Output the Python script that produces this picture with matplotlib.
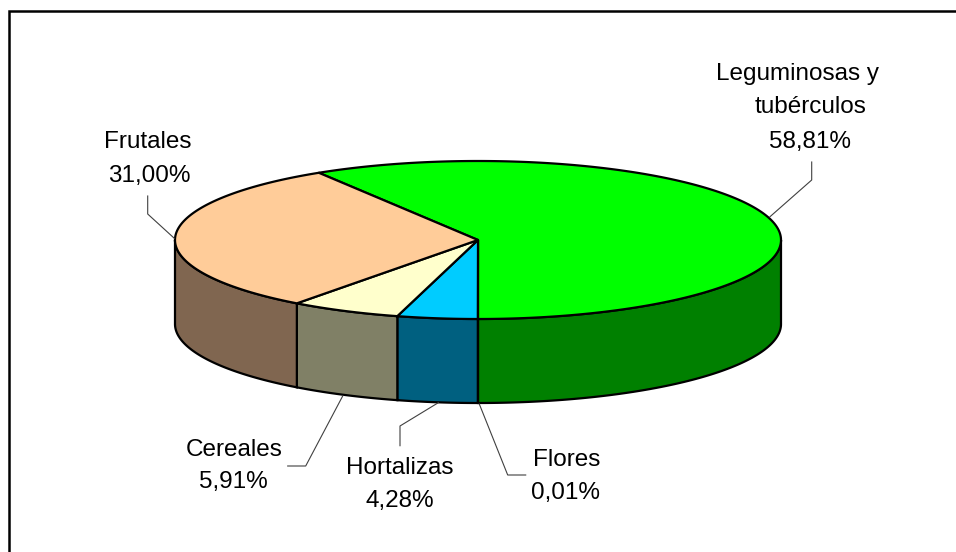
import matplotlib.pyplot as plt
import numpy as np

# participación por tipo de cultivo (orden horario desde el inicio del sector verde)
cultivos = ["Leguminosas y tubérculos", "Flores", "Hortalizas", "Cereales", "Frutales"]
porcentajes = [58.81, 0.01, 4.28, 5.91, 31.00]
etiquetas = ["58,81%", "0,01%", "4,28%", "5,91%", "31,00%"]

color_tapa = ["#00ff00", "#00ccff", "#00ccff", "#ffffcc", "#ffcc99"]
color_lado = ["#008000", "#006680", "#006080", "#808066", "#806650"]

# geometría del pastel en pixeles
cx, cy = 478, 240
a, b = 303, 79
prof = 84

plt.rcParams['font.family'] = ['Liberation Sans', 'DejaVu Sans']

fig = plt.figure(figsize=(9.56, 5.52), dpi=100)
ax = fig.add_axes([0, 0, 1, 1])
ax.set_xlim(0, 956)
ax.set_ylim(552, 0)
ax.axis('off')


def punto(t):
    # t en grados, horario desde las 12
    r = np.radians(t)
    return cx + a*np.sin(r), cy - b*np.cos(r)


vals = np.array(porcentajes)
angs = vals/vals.sum()*360
inicio = 180 - angs[0]
lims = inicio + np.concatenate([[0], np.cumsum(angs)])

# paredes laterales (solo la mitad frontal)
for i in range(len(vals)):
    t0, t1 = lims[i], lims[i+1]
    for k in (0, 360):
        s0 = max(t0, 90 + k)
        s1 = min(t1, 270 + k)
        if s1 - s0 < 0.01:
            continue
        tt = np.linspace(s0, s1, 200)
        xs, ys = punto(tt)
        px = np.concatenate([xs, xs[::-1]])
        py = np.concatenate([ys, ys[::-1] + prof])
        ax.fill(px, py, facecolor=color_lado[i], edgecolor='black', lw=1.6, zorder=2)

# tapas
for i in range(len(vals)):
    t0, t1 = lims[i], lims[i+1]
    tt = np.linspace(t0, t1, max(int(angs[i]*3), 2))
    xs, ys = punto(tt)
    px = np.concatenate([[cx], xs])
    py = np.concatenate([[cy], ys])
    ax.fill(px, py, facecolor=color_tapa[i], edgecolor='black', lw=1.6,
            joinstyle='round', zorder=3)

# líneas guía
guias = [
    [(811.7, 162), (811.7, 180), (770, 216.7)],
    [(525.7, 475), (507.7, 475), (479.3, 404)],
    [(400, 445.7), (400, 426), (438.3, 402.7)],
    [(287.7, 466), (305.7, 466), (342.7, 396)],
    [(147.7, 196), (147.7, 214), (174.3, 238.3)],
]
for g in guias:
    gx, gy = zip(*g)
    ax.plot(gx, gy, color='#404040', lw=0.8, zorder=4)

# textos de las etiquetas
textos = [
    [("Leguminosas y", 798, 80), ("tubérculos", 811, 113.3), (etiquetas[0], 810, 148.3)],
    [("Flores", 567, 465.7), (etiquetas[1], 566, 499.3)],
    [("Hortalizas", 400, 474), (etiquetas[2], 400, 507)],
    [("Cereales", 234.5, 455.7), (etiquetas[3], 233.5, 488)],
    [("Frutales", 148, 147.7), (etiquetas[4], 149, 181.7)],
]
for lineas in textos:
    for txt, x, y in lineas:
        ax.text(x, y, txt, ha='center', va='baseline', fontsize=17.5, color='black')

# marco
ax.plot([9.5, 9.5, 956], [552, 10.5, 10.5], color='black', lw=1.8, solid_joinstyle='miter')

fig.savefig('out.png', dpi=100)
